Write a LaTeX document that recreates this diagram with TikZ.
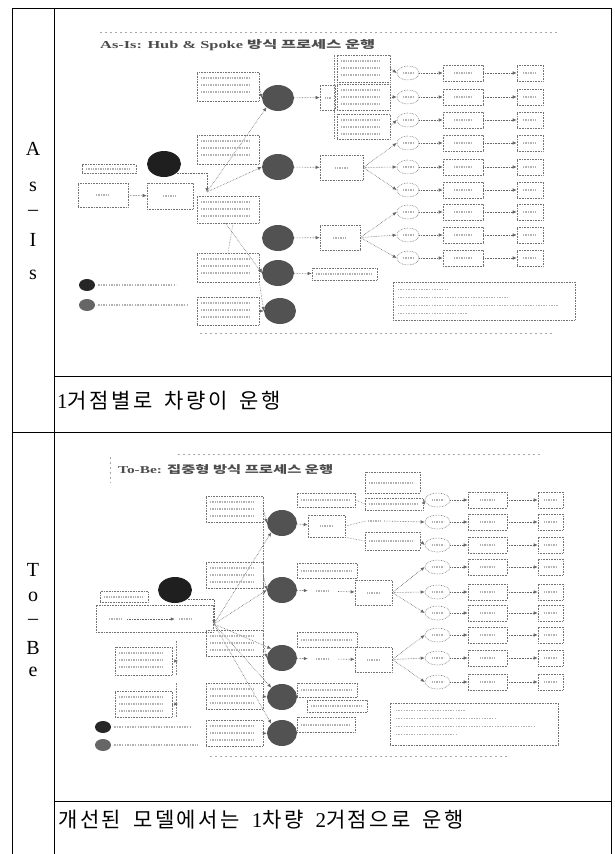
\documentclass[tikz,border=0pt]{standalone}
\usepackage{fontspec}
\usepackage{graphicx}
\setmainfont{Liberation Serif}
\newfontfamily\kr{Noto Sans CJK KR}
\newfontfamily\krcap[LetterSpace=12]{Noto Sans CJK KR}
\usetikzlibrary{shapes.geometric,arrows.meta,calc}
\newcommand\ksp{\hspace{12pt}}
\begin{document}
\begin{tikzpicture}[x=1pt,y=-1pt,
  tline/.style={line width=0.9pt, draw=black},
  bx/.style 2 args={rectangle, draw=black!55, densely dotted, line width=0.6pt, inner sep=0pt, minimum width=#1pt, minimum height=#2pt},
  ebox/.style 2 args={ellipse, draw=black!55, densely dotted, line width=0.6pt, inner sep=0pt, minimum width=#1pt, minimum height=#2pt},
  hubn/.style={ellipse, fill=black!88, inner sep=0pt, minimum width=34pt, minimum height=26pt},
  spk/.style={ellipse, fill=black!68, inner sep=0pt, minimum width=32pt, minimum height=26pt},
  lgc/.style={ellipse, inner sep=0pt, minimum width=16pt, minimum height=12pt},
  arr/.style={draw=black!60, densely dotted, line width=0.6pt, -{Latex[length=4pt,width=3.5pt]}},
  dl/.style={draw=black!50, densely dotted, line width=0.6pt},
  ghost/.style={draw=black!30, line width=2pt, dash pattern=on 1.4pt off 1pt},
  thin ghost/.style={draw=black!30, line width=1.2pt, dash pattern=on 1.4pt off 1.2pt},
  faint/.style={draw=black!35, line width=0.6pt, dash pattern=on 2pt off 3pt},
  letter/.style={inner sep=0pt, font=\fontsize{20}{22}\selectfont}
]
\useasboundingbox (0,0) rectangle (614,854);

% ---------------- table grid ----------------
\draw[tline] (12,8) -- (611,8);
\draw[tline] (12,8) -- (12,854);
\draw[tline] (54,8) -- (54,854);
\draw[tline] (611,8) -- (611,854);
\draw[tline] (54,376) -- (611,376);
\draw[tline] (12,432) -- (611,432);
\draw[tline] (54,801) -- (611,801);

% ---------------- left labels ----------------
\node[letter] (vA1) at (33,149) {A};
\node[letter] (vA2) at (33,187) {s};
\node[letter] (vA3) at (33,213) {–};
\node[letter] (vA4) at (33,240) {I};
\node[letter] (vA5) at (33,275) {s};
\node[letter] (vB1) at (33,570) {T};
\node[letter] (vB2) at (33,597) {o};
\node[letter] (vB3) at (33,622) {–};
\node[letter] (vB4) at (33,648) {B};
\node[letter] (vB5) at (33,672) {e};

% ---------------- captions ----------------
\node[anchor=west, inner sep=0pt] (cap1) at (57,401)
  {\fontsize{21}{24}\selectfont 1\krcap 거점별로\ksp 차량이\ksp 운행};
\node[anchor=west, inner sep=0pt] (cap2) at (58,820)
  {\fontsize{21}{24}\selectfont\krcap 개선된\ksp 모델에서는\ksp{\rmfamily 1}차량\ksp{\rmfamily 2}거점으로\ksp 운행};

% =============== AS-IS DIAGRAM ===============
\draw[faint] (100,32) -- (557,32);
\draw[faint] (200,333) -- (555,333);
\node[anchor=west, inner sep=0pt, text=black!70] (ttlA) at (100,45)
  {\resizebox{275pt}{9pt}{\bfseries As-Is: Hub \& Spoke {\kr 방식 프로세스 운행}}};

\node[hubn] (hA) at (164,164) {};
\node[bx={54}{9}] (hlA) at (109,169) {};
\node[bx={50}{24}] (l1A) at (103,195) {};
\node[bx={46}{26}] (l2A) at (170,196) {};
\draw[arr] (l1A) -- (l2A);

\node[bx={62}{29}] (a1) at (228,86.5) {};
\node[bx={62}{29}] (a2) at (228,149.5) {};
\node[bx={62}{27}] (a3) at (228,209.5) {};
\node[bx={62}{29}] (a4) at (228,267.5) {};
\node[bx={62}{28}] (a5) at (228,311) {};

\node[spk] (s1) at (278,98) {};
\node[spk] (s2) at (278,167) {};
\node[spk] (s3) at (278,238) {};
\node[spk] (s4) at (278,273) {};
\node[spk] (s5) at (280,311) {};

\coordinate (jA) at (207,192);
\draw[arr] (hA.-35) -| (jA);
\draw[arr] (jA) -- (s1.south west);
\draw[arr] (jA) -- (s2.west);
\draw[arr] (a1.east) -- (s1.west);
\draw[arr] (a3.260) -- (s4.west);
\draw[dl] (a3.290) -- (a4.north);
\draw[arr] (a4.east) -- (s4.west);
\draw[arr] (a4.south east) -- (s5.west);
\draw[arr] (a5.east) -- (s5.west);

\node[bx={15}{25}] (b1) at (327.5,97.5) {};
\draw[arr] (s1) -- (b1);
\node[bx={53}{27}] (c1) at (363.5,68.5) {};
\node[bx={53}{26}] (c2) at (363.5,97) {};
\node[bx={53}{25}] (c3) at (363.5,126.5) {};
\draw[dl] ($(c1.north west)+(-2,0)$) -- ($(c3.south west)+(-2,0)$);
\node[bx={43}{25}] (b2) at (341.5,167.5) {};
\draw[arr] (s2) -- (b2);
\node[bx={40}{25}] (b3) at (340,237.5) {};
\draw[arr] (s3) -- (b3);
\node[bx={65}{12}] (k4) at (344.5,274) {};
\draw[arr] (s4) -- (k4);

\foreach \i/\y in {1/73,2/97,3/120,4/143,5/167,6/190,7/212,8/235,9/258} {
  \node[ebox={22}{14}] (e\i) at (408,\y) {};
  \node[bx={40}{16}] (d\i) at (463,\y) {};
  \node[bx={26}{16}] (f\i) at (530,\y) {};
  \draw[arr] (e\i) -- (d\i);
  \draw[arr] (d\i) -- (f\i);
  \draw[ghost] ($(e\i.center)+(-5,0)$) -- ($(e\i.center)+(5,0)$);
  \draw[ghost] ($(d\i.center)+(-9,0)$) -- ($(d\i.center)+(9,0)$);
  \draw[ghost] ($(f\i.center)+(-7,0)$) -- ($(f\i.center)+(7,0)$);
}
\draw[arr] (c1.east) -- (e1.west);
\draw[arr] (c2.east) -- (e2.west);
\draw[arr] (c3.east) -- (e3.west);
\foreach \i in {4,5,6} { \draw[arr] (b2.east) -- (e\i.west); }
\foreach \i in {7,8,9} { \draw[arr] (b3.east) -- (e\i.west); }

\node[bx={182}{38}] (lgA) at (484,301) {};
\draw[thin ghost] ($(lgA.north west)+(5,8)$) -- ++(50,0);
\draw[thin ghost] ($(lgA.north west)+(5,16)$) -- ++(110,0);
\draw[thin ghost] ($(lgA.north west)+(5,24)$) -- ++(160,0);
\draw[thin ghost] ($(lgA.north west)+(5,32)$) -- ++(70,0);

\node[lgc, fill=black!85] (lc1A) at (87,285) {};
\node[lgc, fill=black!60] (lc2A) at (87,305) {};
\draw[thin ghost] ($(lc1A.east)+(3,0)$) -- ++(78,0);
\draw[thin ghost] ($(lc2A.east)+(3,0)$) -- ++(90,0);

% =============== TO-BE DIAGRAM ===============
\draw[faint] (178,454) -- (540,454);
\draw[faint] (110,457) -- (110,483);
\draw[faint] (210,756) -- (510,756);
\node[anchor=west, inner sep=0pt, text=black!70] (ttlB) at (118,470)
  {\resizebox{215pt}{9pt}{\bfseries To-Be: {\kr 집중형 방식 프로세스 운행}}};

\node[hubn] (hB) at (175,590) {};
\node[bx={48}{11}] (hlB) at (124,597) {};
\node[bx={117}{27}] (tl) at (154.5,618.5) {};
\node[inner sep=0pt, minimum width=22pt, minimum height=8pt] (tla) at (116,619) {};
\node[inner sep=0pt, minimum width=22pt, minimum height=8pt] (tlb) at (186,619) {};
\draw[arr] (tla) -- (tlb);
\node[bx={57}{28}] (tl2) at (143.5,661) {};
\node[bx={57}{26}] (tl3) at (143.5,704) {};
\draw[dl] ($(tl2.north east)+(4,-6)$) -- ($(tl2.south east)+(4,0)$);
\draw[dl] ($(tl3.north east)+(4,-8)$) -- ($(tl3.south east)+(4,0)$);

\node[bx={57}{26}] (t1) at (234.5,509) {};
\node[bx={57}{26}] (t2) at (234.5,575) {};
\node[bx={57}{26}] (t3) at (234.5,643.5) {};
\node[bx={57}{26}] (t4) at (234.5,696.5) {};
\node[bx={57}{26}] (t5) at (234.5,733.5) {};

\node[spk, minimum width=30pt] (ts1) at (282,523) {};
\node[spk, minimum width=30pt] (ts2) at (282,590) {};
\node[spk, minimum width=30pt] (ts3) at (282,658) {};
\node[spk, minimum width=30pt] (ts4) at (282,697) {};
\node[spk, minimum width=30pt] (ts5) at (282,733) {};

\coordinate (jB) at (214,624);
\draw[arr] (hB.-35) -| (jB);
\draw[arr] (jB) -- (ts1.south west);
\draw[arr] (jB) -- (ts2.west);
\draw[arr] (jB) -- (ts3.north west);
\draw[arr] (jB) -- (ts4.north west);
\draw[arr] (jB) -- (ts5.north west);
\draw[dl] (t1.south east) -- (t4.north east);
\draw[arr] (t1.east) -- (ts1.west);
\draw[arr] (t2.east) -- (ts2.west);
\draw[arr] (t3.east) -- (ts3.west);
\draw[arr] (t4.east) -- (ts4.west);
\draw[arr] (t5.east) -- (ts5.west);
\draw[arr] (tl2.east) -- ++(6,0);
\draw[arr] (tl3.east) -- ++(6,0);

\node[bx={58}{14}] (p1) at (326,500) {};
\node[bx={37}{22}] (q1) at (326.5,526) {};
\draw[arr] (ts1) -- (q1);
\node[bx={60}{15}] (p2) at (327,570.5) {};
\node[inner sep=0pt, minimum width=30pt, minimum height=10pt] (n2) at (323,591) {};
\node[bx={37}{25}] (q2) at (373.5,592.5) {};
\draw[arr] (ts2) -- (n2);
\draw[arr] (n2) -- (q2);
\node[bx={60}{15}] (p3) at (327,639.5) {};
\node[inner sep=0pt, minimum width=30pt, minimum height=10pt] (n3) at (323,659) {};
\node[bx={37}{25}] (q3) at (373.5,659.5) {};
\draw[arr] (ts3) -- (n3);
\draw[arr] (n3) -- (q3);
\node[bx={60}{14}] (p4) at (327,690) {};
\node[bx={60}{12}] (r4) at (337,706) {};
\node[bx={58}{15}] (p5) at (326,724.5) {};

\node[bx={55}{21}] (z1) at (392.5,482.5) {};
\node[bx={58}{12}] (m1) at (394,504) {};
\node[inner sep=0pt, minimum width=18pt, minimum height=14pt] (m2) at (375,521) {};
\node[bx={55}{18}] (m3) at (392.5,541) {};
\draw[dl] (p1.east) -- (m1.west);
\draw[dl] (q1.east) -- (m2.west);
\draw[dl] (q1.south east) -- (m3.west);

\foreach \i/\y in {1/500,2/522,3/545,4/567,5/592,6/613,7/635,8/658,9/682} {
  \node[ebox={25}{14}] (eb\i) at (437.5,\y) {};
  \node[bx={39}{16}] (db\i) at (487.5,\y) {};
  \node[bx={25}{16}] (fb\i) at (550.5,\y) {};
  \draw[arr] (eb\i) -- (db\i);
  \draw[arr] (db\i) -- (fb\i);
  \draw[ghost] ($(eb\i.center)+(-6,0)$) -- ($(eb\i.center)+(6,0)$);
  \draw[ghost] ($(db\i.center)+(-8,0)$) -- ($(db\i.center)+(8,0)$);
  \draw[ghost] ($(fb\i.center)+(-7,0)$) -- ($(fb\i.center)+(7,0)$);
}
\draw[arr] (m1.east) -- (eb1.west);
\draw[arr] (m2.east) -- (eb2.west);
\draw[arr] (m3.east) -- (eb3.west);
\foreach \i in {4,5,6} { \draw[arr] (q2.east) -- (eb\i.west); }
\foreach \i in {7,8,9} { \draw[arr] (q3.east) -- (eb\i.west); }

\node[bx={168}{42}] (lgB) at (474,724) {};
\draw[thin ghost] ($(lgB.north west)+(6,8)$) -- ++(70,0);
\draw[thin ghost] ($(lgB.north west)+(6,16)$) -- ++(100,0);
\draw[thin ghost] ($(lgB.north west)+(6,24)$) -- ++(140,0);
\draw[thin ghost] ($(lgB.north west)+(6,32)$) -- ++(60,0);

\node[lgc, fill=black!85] (lc1B) at (103,727) {};
\node[lgc, fill=black!60] (lc2B) at (103,745) {};
\draw[thin ghost] ($(lc1B.east)+(3,0)$) -- ++(76,0);
\draw[thin ghost] ($(lc2B.east)+(3,0)$) -- ++(84,0);

% ---------------- ghost text in boxes ----------------
\foreach \n in {a1,a2,a3,a4,a5,c1,c2,c3,t1,t2,t3,t4,t5,tl2,tl3} {
  \foreach \j in {6,13,20} {
    \draw[ghost] ($(\n.north west)+(4,\j)$) -- ($(\n.north east)+(-10,\j)$);
  }
}
\foreach \n in {hlA,hlB,k4,p1,p2,p3,p4,r4,p5,m1,z1,m3} {
  \draw[ghost] ($(\n.west)+(4,0)$) -- ($(\n.east)+(-6,0)$);
}
\foreach \n in {l1A,l2A,b2,b3,q1,q2,q3,tla,tlb,n2,n3,m2} {
  \draw[ghost] ($(\n.center)+(-7,0)$) -- ($(\n.center)+(7,0)$);
}
\draw[ghost] ($(b1.center)+(-3,0)$) -- ($(b1.center)+(3,0)$);
\end{tikzpicture}
\end{document}
